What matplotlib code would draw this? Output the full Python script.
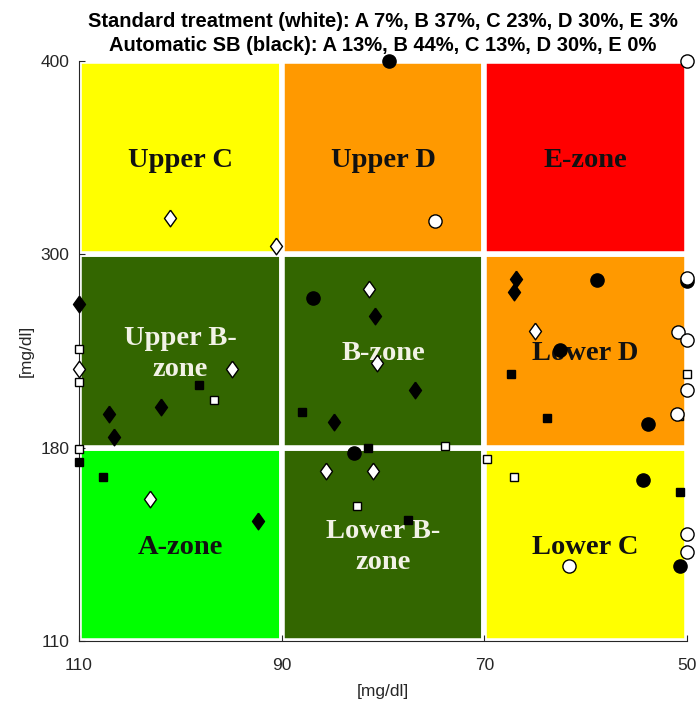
#!/usr/bin/env python3
"""
CVGA (control variability grid) – standard treatment vs automatic SB
"""

import numpy as np
import matplotlib
matplotlib.use('Agg')
import matplotlib.pyplot as plt
from matplotlib.patches import Rectangle

plt.rcParams['font.family'] = ['Liberation Sans', 'DejaVu Sans']

# グリッド境界
x_edges = [110, 90, 70, 50]
y_edges = [110, 180, 300, 400]
x_ticks = [110, 90, 70, 50]
y_ticks = [110, 180, 300, 400]

# ゾーン (行: 下→上, 列: 左→右)
zone_names = [['A-zone', 'Lower B-\nzone', 'Lower C'],
              ['Upper B-\nzone', 'B-zone', 'Lower D'],
              ['Upper C', 'Upper D', 'E-zone']]
zone_colors = [['#00FF00', '#336600', '#FFFF00'],
               ['#336600', '#336600', '#FF9900'],
               ['#FFFF00', '#FF9900', '#FF0000']]
zone_text_colors = [['#111111', '#F2F2E6', '#111111'],
                    ['#F2F2E6', '#F2F2E6', '#111111'],
                    ['#111111', '#111111', '#111111']]

# 標準治療 (白)
std_diamond_x = [101.0, 90.6, 110.0, 94.9, 81.4, 80.6, 65.0, 85.6, 81.0, 103.0]
std_diamond_y = [318.6, 304.1, 229.0, 229.0, 278.7, 232.6, 252.3, 171.5, 171.5, 161.4]
std_square_x = [110.0, 110.0, 96.7, 73.9, 69.7, 67.1, 82.6, 50.0, 50.8, 110.0]
std_square_y = [241.2, 221.0, 209.5, 181.0, 176.0, 169.2, 158.7, 225.4, 199.4, 179.5]
std_circle_x = [50.0, 74.9, 50.0, 50.9, 50.0, 50.0, 50.95, 50.0, 50.0, 61.6]
std_circle_y = [400.0, 317.0, 285.5, 251.7, 247.1, 215.6, 200.7, 148.9, 142.1, 137.3]

# Automatic SB (黒)
sb_diamond_x = [110.0, 101.9, 107.0, 106.5, 80.8, 76.8, 84.8, 66.9, 67.1, 92.3]
sb_diamond_y = [268.9, 205.3, 200.6, 186.4, 261.6, 215.8, 196.1, 284.5, 276.8, 153.6]
sb_square_x = [98.2, 88.0, 81.5, 77.5, 67.4, 63.8, 110.0, 107.6, 50.7]
sb_square_y = [219.0, 201.9, 180.0, 153.9, 225.4, 198.4, 174.8, 169.5, 163.9]
sb_circle_x = [79.4, 86.9, 82.9, 58.9, 50.0, 62.5, 53.8, 54.3, 50.65]
sb_circle_y = [400.0, 273.1, 178.1, 284.0, 283.5, 240.3, 194.9, 168.4, 137.2]

title_text = ('Standard treatment (white): A 7%, B 37%, C 23%, D 30%, E 3%\n'
              'Automatic SB (black): A 13%, B 44%, C 13%, D 30%, E 0%')


def y_fwd(y):
    y = np.asarray(y, dtype=float)
    return np.where(y < 180, (y - 110) / 70,
                    np.where(y < 300, 1 + (y - 180) / 120, 2 + (y - 300) / 100))


def y_inv(v):
    v = np.asarray(v, dtype=float)
    return np.where(v < 1, 110 + v * 70,
                    np.where(v < 2, 180 + (v - 1) * 120, 300 + (v - 2) * 100))


# MATLAB風のひし形マーカー
diamond = [(0, 1), (0.72, 0), (0, -1), (-0.72, 0), (0, 1)]

fig = plt.figure(figsize=(6.96, 7.04), dpi=100)
ax = fig.add_axes([0.1135, 0.0895, 0.8735, 0.824])
ax.set_yscale('function', functions=(y_fwd, y_inv))
ax.set_xlim(110, 50)
ax.set_ylim(110, 400)

# セル描画
for r in range(3):
    for c in range(3):
        x0, x1 = x_edges[c], x_edges[c + 1]
        y0, y1 = y_edges[r], y_edges[r + 1]
        ax.add_patch(Rectangle((x0, y0), x1 - x0, y1 - y0,
                               facecolor=zone_colors[r][c], edgecolor='white',
                               linewidth=4, zorder=1))
        ax.text((x0 + x1) / 2, float(y_inv(r + 0.485)), zone_names[r][c],
                ha='center', va='center', fontsize=20.5, fontweight='bold',
                family=['Liberation Serif', 'DejaVu Serif'],
                color=zone_text_colors[r][c], linespacing=1.3, zorder=2)

mk = dict(linestyle='none', clip_on=False, markeredgewidth=1.0, zorder=5)
ax.plot(sb_circle_x, sb_circle_y, 'o', ms=9.5, mfc='black', mec='black', **mk)
ax.plot(std_diamond_x, std_diamond_y, marker=diamond, ms=12, mfc='white', mec='black', **mk)
ax.plot(std_square_x, std_square_y, 's', ms=6, mfc='white', mec='black', **mk)
ax.plot(std_circle_x, std_circle_y, 'o', ms=9.5, mfc='white', mec='black', **mk)
ax.plot(sb_diamond_x, sb_diamond_y, marker=diamond, ms=12, mfc='black', mec='black', **mk)
ax.plot(sb_square_x, sb_square_y, 's', ms=6.3, mfc='black', mec='black', **mk)

ax.set_xticks(x_ticks)
ax.set_xticklabels([str(t) for t in x_ticks])
ax.set_yticks(y_ticks)
ax.set_yticklabels([str(t) for t in y_ticks])
ax.minorticks_off()
ax.tick_params(direction='in', length=4, labelsize=12.5, colors='#262626')
ax.tick_params(axis='x', pad=12)
ax.tick_params(axis='y', pad=7)
ax.set_xlabel('[mg/dl]', fontsize=12.5, color='#262626', labelpad=8)
ax.set_ylabel('[mg/dl]', fontsize=12.5, color='#262626', labelpad=5)

ax.spines['top'].set_visible(False)
ax.spines['right'].set_visible(False)
ax.spines['bottom'].set_color('#262626')
ax.spines['left'].set_color('#262626')

ax.set_title(title_text, fontsize=14.5, fontweight='bold', pad=7, linespacing=1.35)

plt.savefig('out.png', dpi=100, facecolor='white')
plt.close()
print("Saved: out.png")
